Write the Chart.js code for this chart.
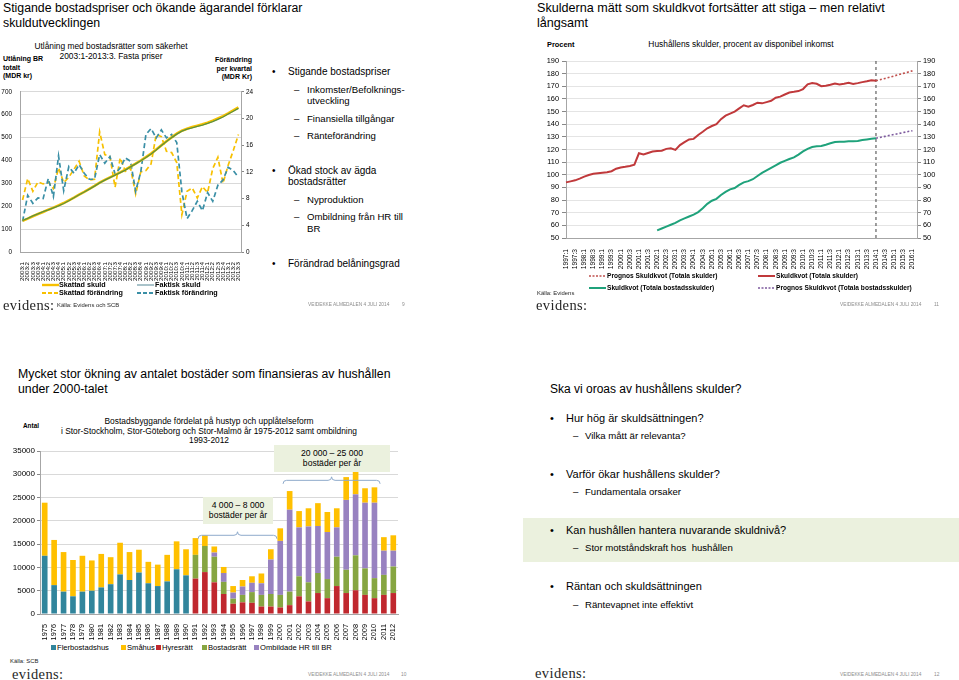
<!DOCTYPE html>
<html lang="sv">
<head>
<meta charset="utf-8">
<title>Hushållens skulder</title>
<script src="https://cdn.jsdelivr.net/npm/chart.js@4.4.1/dist/chart.umd.min.js"></script>
<style>
  html, body { margin: 0; padding: 0; background: #fff; }
  body { width: 959px; height: 680px; position: relative; overflow: hidden;
         font-family: 'Liberation Sans', Arial, sans-serif; color: #000; }
  .t { position: absolute; white-space: nowrap; }
  .title { font-size: 12.3px; line-height: 15px; }
  .logo { font-family: 'Liberation Serif', 'DejaVu Serif', serif; font-size: 14.5px; line-height: 16px; color: #262626; letter-spacing: 0.4px; }
  .foot { font-size: 4.8px; line-height: 6px; color: #8c8c8c; }
  .src { font-size: 5.9px; line-height: 7px; color: #262626; }
  .axt { font-size: 7px; line-height: 8.5px; font-weight: bold; }
  .ctitle { font-size: 8.4px; line-height: 9.5px; text-align: center; }
  .lg { font-size: 7.2px; line-height: 8px; font-weight: bold; }
  .lg2 { font-size: 6.6px; line-height: 8px; font-weight: bold; }
  .b1 { font-size: 10px; line-height: 12px; }
  .b2 { font-size: 9.6px; line-height: 12px; }
  .b3 { font-size: 11px; line-height: 13px; }
  .blg { font-size: 7.6px; line-height: 9px; }
  .sq { display: inline-block; width: 5px; height: 5px; margin-right: 1px; vertical-align: 0px; }
  .note { position: absolute; background: #ebf1de; font-size: 8.6px; line-height: 10.3px; text-align: center; padding-top: 3px; }
  canvas { position: absolute; }
  svg { position: absolute; overflow: visible; }
</style>
</head>
<body>

<!-- ===== Slide 9 (top left) ===== -->
<div class="t title" style="left:3px; top:1px;">Stigande bostadspriser och ökande ägarandel förklarar<br>skuldutvecklingen</div>
<div class="t ctitle" style="left:31px; top:42px; width:160px;">Utlåning med bostadsrätter som säkerhet<br>2003:1-2013:3. Fasta priser</div>
<div class="t axt" style="left:3px; top:55px;">Utlåning BR<br>totalt<br>(MDR kr)</div>
<div class="t axt" style="left:196px; top:56px; width:56px; text-align:right;">Förändring<br>per kvartal<br>(MDR Kr)</div>
<canvas id="lendingChart" width="258" height="205" style="left:0; top:80px;"></canvas>

<svg width="20" height="4" style="left:42px; top:283px;"><line x1="0" y1="2" x2="17" y2="2" stroke="#f7c000" stroke-width="2.4"/></svg>
<div class="t lg" style="left:59px; top:281px;">Skattad skuld</div>
<svg width="20" height="4" style="left:137px; top:283px;"><line x1="0" y1="2" x2="17" y2="2" stroke="#6f9aa6" stroke-width="1.2"/></svg>
<div class="t lg" style="left:155px; top:281px;">Faktisk skuld</div>
<svg width="20" height="4" style="left:42px; top:291px;"><line x1="0" y1="2" x2="17" y2="2" stroke="#f7c000" stroke-width="1.8" stroke-dasharray="4,2"/></svg>
<div class="t lg" style="left:59px; top:289px;">Skattad förändring</div>
<svg width="20" height="4" style="left:137px; top:291px;"><line x1="0" y1="2" x2="17" y2="2" stroke="#3a8fa6" stroke-width="1.8" stroke-dasharray="4,2"/></svg>
<div class="t lg" style="left:155px; top:289px;">Faktisk förändring</div>

<div class="t logo" style="left:3px; top:297px;">evidens:</div>
<div class="t src" style="left:57px; top:302px;">Källa: Evidens och SCB</div>
<div class="t foot" style="left:308px; top:302px;">VEIDEKKE ALMEDALEN 4 JULI 2014</div>
<div class="t foot" style="left:402px; top:302px;">9</div>

<div class="t b1" style="left:272px; top:66px;">•</div>
<div class="t b1" style="left:288px; top:66px;">Stigande bostadspriser</div>
<div class="t b2" style="left:294px; top:84px;">–</div>
<div class="t b2" style="left:307px; top:84px;">Inkomster/Befolknings-</div>
<div class="t b2" style="left:307px; top:95px;">utveckling</div>
<div class="t b2" style="left:294px; top:113px;">–</div>
<div class="t b2" style="left:307px; top:113px;">Finansiella tillgångar</div>
<div class="t b2" style="left:294px; top:130px;">–</div>
<div class="t b2" style="left:307px; top:130px;">Ränteförändring</div>
<div class="t b1" style="left:272px; top:165px;">•</div>
<div class="t b1" style="left:288px; top:165px;">Ökad stock av ägda</div>
<div class="t b1" style="left:288px; top:176px;">bostadsrätter</div>
<div class="t b2" style="left:294px; top:194px;">–</div>
<div class="t b2" style="left:307px; top:194px;">Nyproduktion</div>
<div class="t b2" style="left:294px; top:211px;">–</div>
<div class="t b2" style="left:307px; top:211px;">Ombildning från HR till</div>
<div class="t b2" style="left:307px; top:223px;">BR</div>
<div class="t b1" style="left:272px; top:258px;">•</div>
<div class="t b1" style="left:288px; top:258px;">Förändrad belåningsgrad</div>

<!-- ===== Slide 11 (top right) ===== -->
<div class="t title" style="left:537px; top:1px; font-size:12.6px;">Skulderna mätt som skuldkvot fortsätter att stiga – men relativt<br>långsamt</div>
<div class="t axt" style="left:547px; top:41px; font-size:7.4px;">Procent</div>
<div class="t ctitle" style="left:631px; top:40px; width:220px;">Hushållens skulder, procent av disponibel inkomst</div>
<canvas id="ratioChart" width="429" height="225" style="left:530px; top:50px;"></canvas>

<svg width="20" height="4" style="left:589px; top:274px;"><line x1="0" y1="2" x2="17" y2="2" stroke="#c0504d" stroke-width="1.5" stroke-dasharray="2,1.5"/></svg>
<div class="t lg2" style="left:607px; top:272px;">Prognos Skuldkvot (Totala skulder)</div>
<svg width="20" height="4" style="left:758px; top:274px;"><line x1="0" y1="2" x2="17" y2="2" stroke="#c0393b" stroke-width="2"/></svg>
<div class="t lg2" style="left:776px; top:272px;">Skuldkvot (Totala skulder)</div>
<svg width="20" height="4" style="left:589px; top:286px;"><line x1="0" y1="2" x2="17" y2="2" stroke="#1fa27b" stroke-width="2"/></svg>
<div class="t lg2" style="left:607px; top:284px;">Skuldkvot (Totala bostadsskulder)</div>
<svg width="20" height="4" style="left:758px; top:286px;"><line x1="0" y1="2" x2="17" y2="2" stroke="#7d5a9e" stroke-width="1.5" stroke-dasharray="2,1.5"/></svg>
<div class="t lg2" style="left:776px; top:284px;">Prognos Skuldkvot (Totala bostadsskulder)</div>

<div class="t src" style="left:537px; top:290px;">Källa: Evidens</div>
<div class="t logo" style="left:536px; top:297px;">evidens:</div>
<div class="t foot" style="left:840px; top:302px;">VEIDEKKE ALMEDALEN 4 JULI 2014</div>
<div class="t foot" style="left:934px; top:302px;">11</div>

<!-- ===== Slide 10 (bottom left) ===== -->
<div class="t title" style="left:18px; top:367px;">Mycket stor ökning av antalet bostäder som finansieras av hushållen<br>under 2000-talet</div>
<div class="t axt" style="left:23px; top:422px; font-size:6.4px;">Antal</div>
<div class="t ctitle" style="left:49px; top:417px; width:320px;">Bostadsbyggande fördelat på hustyp och upplåtelseform<br>i Stor-Stockholm, Stor-Göteborg och Stor-Malmö år 1975-2012 samt ombildning<br>1993-2012</div>
<canvas id="buildChart" width="405" height="200" style="left:0; top:440px;"></canvas>
<div class="note" style="left:203px; top:497px; width:70px; height:24px;">4 000 – 8 000<br>bostäder per år</div>
<div class="note" style="left:274px; top:445px; width:116px; height:24px;">20 000 – 25 000<br>bostäder per år</div>

<div class="t blg" style="left:51px; top:643px;"><span class="sq" style="background:#31859c"></span>Flerbostadshus</div>
<div class="t blg" style="left:121px; top:643px;"><span class="sq" style="background:#ffc000"></span>Småhus</div>
<div class="t blg" style="left:156px; top:643px;"><span class="sq" style="background:#c0282e"></span>Hyresrätt</div>
<div class="t blg" style="left:202px; top:643px;"><span class="sq" style="background:#86a541"></span>Bostadsrätt</div>
<div class="t blg" style="left:254px; top:643px;"><span class="sq" style="background:#9882c0"></span>Ombildade HR till BR</div>

<div class="t src" style="left:10px; top:658px;">Källa: SCB</div>
<div class="t logo" style="left:12px; top:666px;">evidens:</div>
<div class="t foot" style="left:308px; top:672px;">VEIDEKKE ALMEDALEN 4 JULI 2014</div>
<div class="t foot" style="left:401px; top:672px;">10</div>

<!-- ===== Slide 12 (bottom right) ===== -->
<div style="position:absolute; left:523px; top:518px; width:436px; height:44px; background:#ebf1de;"></div>
<div class="t" style="left:550px; top:381px; font-size:12px; line-height:16px;">Ska vi oroas av hushållens skulder?</div>
<div class="t b3" style="left:550px; top:412px;">•</div>
<div class="t b3" style="left:566px; top:412px;">Hur hög är skuldsättningen?</div>
<div class="t b2" style="left:573px; top:430px;">–</div>
<div class="t b2" style="left:585px; top:430px;">Vilka mått är relevanta?</div>
<div class="t b3" style="left:550px; top:468px;">•</div>
<div class="t b3" style="left:566px; top:468px;">Varför ökar hushållens skulder?</div>
<div class="t b2" style="left:573px; top:486px;">–</div>
<div class="t b2" style="left:585px; top:486px;">Fundamentala orsaker</div>
<div class="t b3" style="left:550px; top:524px;">•</div>
<div class="t b3" style="left:566px; top:524px;">Kan hushållen hantera nuvarande skuldnivå?</div>
<div class="t b2" style="left:573px; top:542px;">–</div>
<div class="t b2" style="left:585px; top:542px;">Stor motståndskraft hos&nbsp; hushållen</div>
<div class="t b3" style="left:550px; top:580px;">•</div>
<div class="t b3" style="left:566px; top:580px;">Räntan och skuldsättningen</div>
<div class="t b2" style="left:573px; top:599px;">–</div>
<div class="t b2" style="left:585px; top:599px;">Räntevapnet inte effektivt</div>
<div class="t logo" style="left:535px; top:665px;">evidens:</div>
<div class="t foot" style="left:840px; top:672px;">VEIDEKKE ALMEDALEN 4 JULI 2014</div>
<div class="t foot" style="left:934px; top:672px;">12</div>

<script>
// Quarter labels like "2003:1"
function quarterLabels(y0, q0, y1, q1) {
  const out = [];
  let y = y0, q = q0;
  while (y < y1 || (y === y1 && q <= q1)) {
    out.push(y + ':' + q);
    q++;
    if (q > 4) { q = 1; y++; }
  }
  return out;
}

// --- Utlåning med bostadsrätter som säkerhet, 2003:1-2013:3 (MDR kr)
const lendingQuarters = quarterLabels(2003, 1, 2013, 3);
const actualDebt = [138, 147, 158, 167, 176, 184, 193, 202, 212, 224, 237, 250, 262, 275, 288,
  302, 314, 325, 336, 347, 358, 372, 385, 399, 413, 428, 446, 465, 483, 500,
  515, 528, 537, 543, 549, 555, 562, 570, 580, 590, 603, 615, 628];
const estimatedDebt = [136, 146, 156, 166, 175, 185, 194, 204, 214, 226, 238, 251, 263, 276, 289,
  303, 315, 326, 337, 348, 360, 373, 386, 400, 415, 430, 448, 466, 484, 501,
  517, 530, 539, 546, 552, 558, 565, 574, 584, 594, 606, 619, 632];
const estimatedChange = [7.8, 11.0, 9.1, 10.5, 10.2, 10.5, 9.5, 12.6, 10.4, 11.2, 12.4, 13.6, 11.4, 10.8, 10.9,
  18.0, 14.6, 14.3, 9.7, 14.1, 12.1, 12.6, 8.7, 12.0, 12.2, 13.2, 17.6, 17.3, 15.1, 14.9,
  13.4, 5.6, 9.1, 9.6, 8.1, 9.8, 8.9, 12.5, 14.2, 10.3, 13.0, 15.2, 17.6];
const actualChange = [4.6, 8.5, 7.3, 8.1, 8.0, 11.0, 8.3, 14.4, 9.2, 12.8, 11.8, 13.1, 11.8, 10.9, 10.9,
  14.6, 13.3, 14.3, 11.7, 12.6, 14.1, 13.6, 9.1, 12.0, 17.6, 18.5, 17.1, 18.3, 17.1, 17.6,
  16.4, 9.0, 5.0, 6.2, 7.6, 6.2, 8.9, 7.6, 10.0, 10.8, 12.7, 12.2, 11.2];

// --- Hushållens skulder, procent av disponibel inkomst
const ratioQuarters = quarterLabels(1997, 1, 2016, 2);
const totalDebtRatio = [ // 1997:1 - 2014:1
  94.0, 94.8, 95.6, 97.0, 98.5, 99.8, 100.8, 101.2, 101.6, 102.0, 102.8, 104.8, 105.8, 106.3, 107.0,
  108.0, 117.0, 116.0, 117.2, 118.4, 118.8, 119.0, 120.5, 121.0, 119.7, 123.5, 125.8, 128.0, 128.4, 131.5,
  134.0, 136.8, 138.6, 140.0, 144.0, 146.8, 148.4, 150.0, 152.5, 155.0, 153.8, 155.2, 157.0, 156.5, 157.5,
  158.5, 161.0, 161.8, 163.5, 165.1, 165.6, 166.2, 167.8, 171.5, 172.5, 172.0, 170.1, 170.4, 171.2, 172.2,
  171.5, 172.0, 172.7, 171.8, 172.5, 173.3, 174.0, 174.8, 174.3];
const housingStart = '2002:1';
const housingDebtRatio = [ // 2002:1 - 2014:1
  56.0, 57.5, 59.0, 60.5, 62.0, 64.0, 65.5, 67.0, 68.5, 70.5, 73.5, 77.0, 79.5, 81.0, 84.0,
  86.5, 88.5, 89.5, 92.0, 94.0, 95.0, 96.5, 99.0, 101.5, 103.5, 105.5, 107.5, 109.5, 111.0, 112.5,
  113.8, 116.0, 118.5, 120.5, 122.0, 122.5, 122.8, 123.8, 125.0, 126.0, 126.2, 126.2, 126.5, 126.5, 126.8,
  127.5, 128.0, 128.5, 128.9];
const forecastQuarters = ['2014:1', '2014:3', '2015:1', '2015:3', '2016:1'];
const totalForecast = [174.3, 176.2, 178.2, 180.2, 182.2];
const housingForecast = [128.9, 130.4, 131.9, 133.4, 134.9];
const forecastStart = '2014:1';
const ratioRange = [50, 190];

// --- Bostadsbyggande 1975-2012 (antal)
const buildYears = ['1975', '1976', '1977', '1978', '1979', '1980', '1981', '1982', '1983', '1984',
  '1985', '1986', '1987', '1988', '1989', '1990', '1991', '1992', '1993', '1994', '1995', '1996', '1997',
  '1998', '1999', '2000', '2001', '2002', '2003', '2004', '2005', '2006', '2007', '2008', '2009', '2010',
  '2011', '2012'];
const flerbostadshus = [12500, 6200, 4800, 3800, 4800, 5000, 5700, 6400, 8500, 7300, 8900, 6600, 6000, 7000, 9600, 8300,
  0, 0, 0, 0, 0, 0, 0, 0, 0, 0, 0, 0, 0, 0, 0, 0, 0, 0, 0, 0, 0, 0];
const smahus = [11400, 9700, 8500, 7800, 7700, 6500, 7200, 5800, 6800, 6000, 4900, 4600, 4600, 5700, 6000, 5600,
  3600, 2300, 1300, 1300, 1400, 1400, 1400, 2100, 2200, 2700, 4000, 3500, 3900, 4900, 4300, 4100, 4900, 4800,
  3100, 3300, 2900, 3300];
const hyresratt = [0, 0, 0, 0, 0, 0, 0, 0, 0, 0, 0, 0, 0, 0, 0, 0,
  7600, 9000, 6800, 4300, 2200, 2500, 2400, 1600, 1600, 1400, 1900, 3800, 2700, 4500, 3400, 6000, 4500, 5100,
  4100, 3400, 4100, 4500];
const bostadsratt = [0, 0, 0, 0, 0, 0, 0, 0, 0, 0, 0, 0, 0, 0, 0, 0,
  5100, 5600, 5500, 2600, 1100, 1600, 2300, 2500, 2700, 2700, 2900, 4300, 4100, 4300, 4100, 6300, 5000, 7500,
  5700, 4300, 4300, 5700];
const ombildade = [0, 0, 0, 0, 0, 0, 0, 0, 0, 0, 0, 0, 0, 0, 0, 0,
  0, 0, 900, 1900, 1300, 1800, 2000, 2500, 7400, 11600, 17600, 10500, 12000, 10100, 10100, 6300, 15000, 13100,
  14100, 16200, 5200, 3400];

// Chart defaults
Chart.defaults.font.family = "'Liberation Sans', Arial, sans-serif";
Chart.defaults.color = '#000';
Chart.defaults.animation = false;
Chart.defaults.responsive = false;
Chart.defaults.plugins.legend.display = false;
Chart.defaults.plugins.tooltip.enabled = false;
Chart.defaults.elements.point.radius = 0;
Chart.defaults.elements.line.tension = 0;

const axisGrey = '#a6a6a6';
const plainNumber = v => String(v);

// 1. Utlåning BR
new Chart(document.getElementById('lendingChart'), {
  type: 'line',
  data: {
    labels: lendingQuarters,
    datasets: [
      { label: 'Faktisk skuld', data: actualDebt, yAxisID: 'yDebt', borderColor: '#5a9140', borderWidth: 1.3 },
      { label: 'Skattad skuld', data: estimatedDebt, yAxisID: 'yDebt', borderColor: '#f7c000', borderWidth: 2.6 },
      { label: 'Faktisk förändring', data: actualChange, yAxisID: 'yChange', borderColor: '#3a8fa6', borderWidth: 1.7, borderDash: [5, 3] },
      { label: 'Skattad förändring', data: estimatedChange, yAxisID: 'yChange', borderColor: '#f7c000', borderWidth: 1.7, borderDash: [5, 3] }
    ]
  },
  options: {
    layout: { padding: { top: 7, left: 0, right: 0, bottom: 0 } },
    scales: {
      x: {
        offset: true, grid: { display: false }, border: { color: axisGrey },
        ticks: { autoSkip: false, minRotation: 90, maxRotation: 90, padding: 2, font: { size: 6.2 } },
        afterFit: s => { s.height = 33; }
      },
      yDebt: {
        position: 'left', min: 0, max: 700,
        ticks: { stepSize: 100, padding: 8, font: { size: 6.4 }, callback: plainNumber },
        grid: { color: '#d9d9d9', drawTicks: false }, border: { color: axisGrey },
        afterFit: s => { s.width = 20; }
      },
      yChange: {
        position: 'right', min: 0, max: 24,
        ticks: { stepSize: 4, padding: 2, font: { size: 6.4 }, callback: plainNumber },
        grid: { drawOnChartArea: false, tickLength: 3, tickColor: '#888' }, border: { color: axisGrey },
        afterFit: s => { s.width = 17; }
      }
    }
  }
});

// 2. Skuldkvot
new Chart(document.getElementById('ratioChart'), {
  type: 'line',
  data: {
    labels: ratioQuarters,
    datasets: [
      { label: 'Skuldkvot (Totala skulder)', data: totalDebtRatio, borderColor: '#c0393b', borderWidth: 2 },
      {
        label: 'Skuldkvot (Totala bostadsskulder)', borderColor: '#1fa27b', borderWidth: 2,
        data: housingDebtRatio.map((v, i) => ({ x: ratioQuarters[ratioQuarters.indexOf(housingStart) + i], y: v }))
      },
      {
        label: 'Prognos Skuldkvot (Totala skulder)', borderColor: '#c0504d', borderWidth: 1.6, borderDash: [2, 2],
        data: forecastQuarters.map((q, i) => ({ x: q, y: totalForecast[i] }))
      },
      {
        label: 'Prognos Skuldkvot (Totala bostadsskulder)', borderColor: '#7d5a9e', borderWidth: 1.6, borderDash: [2, 2],
        data: forecastQuarters.map((q, i) => ({ x: q, y: housingForecast[i] }))
      },
      {
        label: 'Prognosstart', borderColor: '#404040', borderWidth: 1, borderDash: [3, 3],
        data: ratioRange.map(v => ({ x: forecastStart, y: v }))
      }
    ]
  },
  options: {
    layout: { padding: { top: 11, left: 0, right: 0, bottom: 0 } },
    scales: {
      x: {
        offset: false, grid: { display: false }, border: { color: axisGrey },
        ticks: {
          autoSkip: false, minRotation: 90, maxRotation: 90, padding: 3, font: { size: 6.6 },
          callback(value, index) { return index % 2 === 0 ? this.getLabelForValue(value) : ''; }
        },
        afterFit: s => { s.height = 37; }
      },
      y: {
        position: 'left', min: ratioRange[0], max: ratioRange[1],
        ticks: { stepSize: 10, padding: 3, font: { size: 7.4 }, callback: plainNumber },
        grid: { color: '#e4e4e4', tickLength: 4, tickColor: '#888' }, border: { color: axisGrey },
        afterFit: s => { s.width = 36; }
      },
      yRight: {
        position: 'right', min: ratioRange[0], max: ratioRange[1],
        ticks: { stepSize: 10, padding: 2, font: { size: 7.4 }, callback: plainNumber },
        grid: { drawOnChartArea: false, tickLength: 4, tickColor: '#888' }, border: { color: axisGrey },
        afterFit: s => { s.width = 42; }
      }
    }
  }
});

// braces above bar groups
const bracePlugin = {
  id: 'braces',
  afterDatasetsDraw(chart, args, opts) {
    const { ctx, scales: { x, y } } = chart;
    const step = x.getPixelForValue(1) - x.getPixelForValue(0);
    ctx.save();
    ctx.strokeStyle = opts.color;
    ctx.lineWidth = 1;
    opts.items.forEach(b => {
      const x0 = x.getPixelForValue(buildYears.indexOf(b.from)) + b.shiftFrom * step;
      const x1 = x.getPixelForValue(buildYears.indexOf(b.to)) + b.shiftTo * step;
      const xm = (x0 + x1) / 2;
      const yy = y.getPixelForValue(b.level);
      const h = 3.5;
      ctx.beginPath();
      ctx.moveTo(x0, yy + h);
      ctx.quadraticCurveTo(x0, yy, x0 + h, yy);
      ctx.lineTo(xm - h, yy);
      ctx.quadraticCurveTo(xm, yy, xm, yy - h);
      ctx.quadraticCurveTo(xm, yy, xm + h, yy);
      ctx.lineTo(x1 - h, yy);
      ctx.quadraticCurveTo(x1, yy, x1, yy + h);
      ctx.stroke();
    });
    ctx.restore();
  }
};

// 3. Bostadsbyggande
new Chart(document.getElementById('buildChart'), {
  type: 'bar',
  data: {
    labels: buildYears,
    datasets: [
      { label: 'Flerbostadshus', data: flerbostadshus, backgroundColor: '#31859c' },
      { label: 'Hyresrätt', data: hyresratt, backgroundColor: '#c0282e' },
      { label: 'Bostadsrätt', data: bostadsratt, backgroundColor: '#86a541' },
      { label: 'Ombildade HR till BR', data: ombildade, backgroundColor: '#9882c0' },
      { label: 'Småhus', data: smahus, backgroundColor: '#ffc000' }
    ]
  },
  options: {
    layout: { padding: { top: 11, right: 7, left: 0, bottom: 0 } },
    datasets: { bar: { barPercentage: 0.6, categoryPercentage: 1 } },
    scales: {
      x: {
        stacked: true, grid: { display: false }, border: { color: axisGrey },
        ticks: { autoSkip: false, minRotation: 90, maxRotation: 90, padding: 2, font: { size: 7.4 } },
        afterFit: s => { s.height = 26; }
      },
      y: {
        stacked: true, min: 0, max: 35000,
        ticks: { stepSize: 5000, padding: 2, font: { size: 8 }, callback: plainNumber },
        grid: { color: '#d9d9d9', tickLength: 3, tickColor: '#888' }, border: { color: axisGrey },
        afterFit: s => { s.width = 40; }
      }
    },
    plugins: {
      braces: {
        color: '#8eaacb',
        items: [
          { from: '1991', to: '2000', shiftFrom: 0.28, shiftTo: -0.35, level: 16900 },
          { from: '2001', to: '2011', shiftFrom: -0.7, shiftTo: -0.4, level: 28700 }
        ]
      }
    }
  },
  plugins: [bracePlugin]
});
</script>
</body>
</html>
